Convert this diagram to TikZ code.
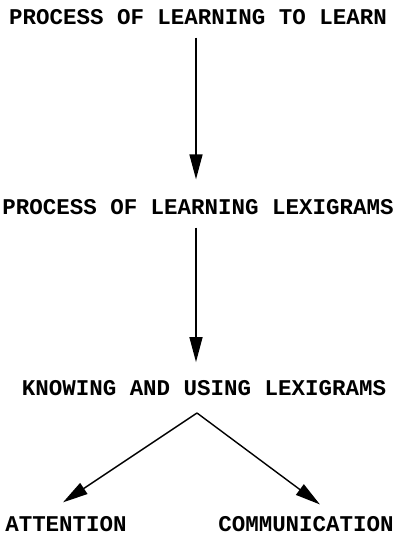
\documentclass[tikz,border=0pt]{standalone}
\usepackage{fontspec}
\setmonofont{Liberation Mono}
\usetikzlibrary{arrows.meta}
\begin{document}
\begin{tikzpicture}[x=0.02cm,y=-0.02cm,line width=0.8pt,
  lbl/.style={font=\ttfamily\bfseries\fontsize{12.8}{14}\selectfont,inner sep=0pt},
  arr/.style={-{Triangle[length=0.5cm,width=0.26cm]}}]
  \useasboundingbox (0,0) rectangle (396,538);
  \node[lbl] (learn) at (198,17) {PROCESS OF LEARNING TO LEARN};
  \node[lbl] (lexi) at (198,207) {PROCESS OF LEARNING LEXIGRAMS};
  \node[lbl] (know) at (204,388) {KNOWING AND USING LEXIGRAMS};
  \node[lbl] (att) at (66,524) {ATTENTION};
  \node[lbl] (comm) at (306,524) {COMMUNICATION};
  \coordinate (apex) at (197,413);
  \draw[arr,shorten <=7pt,shorten >=11pt] ([xshift=-0.04cm]learn.south) -- ([xshift=-0.04cm]lexi.north);
  \draw[arr,shorten <=7pt,shorten >=10pt] ([xshift=-0.04cm]lexi.south) -- ([xshift=-0.04cm]lexi.south |- know.north);
  \draw[arr,shorten >=13.7pt] (apex) -- ([xshift=-0.46cm]att.north);
  \draw[arr,shorten >=10.7pt] (apex) -- ([xshift=0.58cm]comm.north);
\end{tikzpicture}
\end{document}
